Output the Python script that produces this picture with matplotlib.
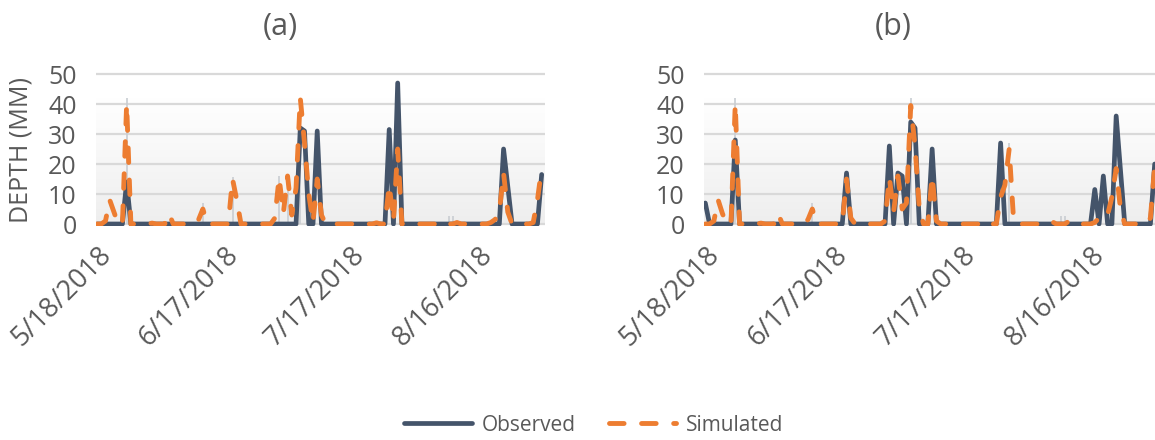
import numpy as np
import pandas as pd
import matplotlib
matplotlib.use("Agg")
import matplotlib.pyplot as plt
import matplotlib.dates as mdates
from matplotlib.lines import Line2D

plt.rcParams["font.family"] = ["Open Sans", "DejaVu Sans"]

# ---- data -------------------------------------------------------------
dates = pd.date_range("2018-05-18", periods=106, freq="D")
tick_dates = ["2018-05-18", "2018-06-17", "2018-07-17", "2018-08-16"]
tick_labels = ["5/18/2018", "6/17/2018", "7/17/2018", "8/16/2018"]
y_ticks = [0, 10, 20, 30, 40, 50]
panel_titles = ["(a)", "(b)"]
series_names = ["Observed", "Simulated"]

observed_a = [
    0, 0, 0, 0, 0, 0, 0, 14, 0, 0,
    0, 0, 0, 0, 0, 0, 0, 0, 0, 0,
    0, 0, 0, 0, 0, 0, 0, 0, 0, 0,
    0, 0, 0, 0, 0, 0, 0, 0, 0, 0,
    0, 0, 0, 0, 0, 0, 0, 0, 32, 31,
    0, 0, 31, 0, 0, 0, 0, 0, 0, 0,
    0, 0, 0, 0, 0, 0, 0, 0, 0, 31.5,
    0, 47, 0, 0, 0, 0, 0, 0, 0, 0,
    0, 0, 0, 0, 0, 0, 0, 0, 0, 0,
    0, 0, 0, 0, 0, 0, 25, 12.5, 0, 0,
    0, 0, 0, 0, 0, 16.5,
]
simulated_a = [
    0, 0, 1, 8, 4, 0, 0, 40, 0, 0,
    0, 0, 0, 0.3, 0, 0, 0, 3.5, 0, 0,
    0, 0, 0, 0, 1.5, 5, 0, 0, 0, 0,
    0, 0, 15, 8, 0, 0, 0, 0, 0, 0,
    0, 0, 2, 15.5, 3.5, 16, 3, 12, 42, 27,
    10, 0.5, 15, 3, 0, 0, 0, 0, 0, 0,
    0, 0, 0, 0, 0, 0, 0.4, 0, 0, 13,
    1, 25, 0, 0, 0, 0, 0, 0, 0, 0,
    0, 0.8, 0, 0, 0, 0.5, 0, 0, 0, 0,
    0, 0, 0, 0.5, 1.5, 4, 17, 4, 0, 0,
    0, 0, 0, 0.5, 8, 18.7,
]
observed_b = [
    7, 0, 0, 0, 0, 0, 0, 28, 0, 0,
    0, 0, 0, 0, 0, 0, 0, 0, 0, 0,
    0, 0, 0, 0, 0, 0, 0, 0, 0, 0,
    0, 0, 0, 17, 0, 0, 0, 0, 0, 0,
    0, 0, 0, 26, 0, 17, 16, 0, 34, 32,
    0, 0, 0, 25, 0, 0, 0, 0, 0, 0,
    0, 0, 0, 0, 0, 0, 0, 0, 0, 27,
    0, 0, 0, 0, 0, 0, 0, 0, 0, 0,
    0, 0, 0, 0, 0, 0, 0, 0, 0, 0,
    0, 11.5, 0, 16, 0, 0, 36, 18, 0, 0,
    0, 0, 0, 0, 0, 20,
]
simulated_b = [
    0, 0, 1, 8, 3.5, 0, 0, 40, 0, 0,
    0, 0, 0, 0.3, 0, 0, 0, 3.5, 0, 0,
    0, 0, 0, 0, 1.5, 5, 0, 0, 0, 0,
    0, 0, 0, 15, 2, 0, 0, 0, 0, 0,
    0, 0, 1, 15.5, 4, 16, 5, 7, 39.5, 26,
    5, 0, 0, 16, 1, 0, 0, 0, 0, 0,
    0, 0, 0, 0, 0, 1, 0, 0, 0, 9,
    13, 25, 2, 0, 0, 0, 0, 0, 0, 0,
    0, 0.8, 0, 0, 0, 1, 0, 0, 0, 0,
    0, 0.5, 2, 1.5, 3, 9, 18.5, 5, 0, 0,
    0, 0, 0, 0, 2, 19.5,
]

# thin grey drop lines (day index, height)
drop_days_a = [7, 25, 32, 43, 45, 48, 83, 84]
drop_heights_a = [42, 7, 15.5, 16, 16.5, 42, 2.5, 2.5]
drop_days_b = [7, 25, 48, 71, 83, 84]
drop_heights_b = [42, 7, 42, 27, 2.5, 2.5]

# ---- style ------------------------------------------------------------
NAVY = "#44546A"
ORANGE = "#ED7D31"
TEXT = "#595959"
GRID = "#D9D9D9"
W, H = 1155, 440
OBS_LW = 3.4
SIM_LW = 3.5
SIM_DASH = (0, (3.0, 3.6))

fig = plt.figure(figsize=(W / 100, H / 100), dpi=100)

xnum = mdates.date2num(dates)
x0 = xnum[0]

# pixel geometry of each plot area: left, right, first-point x, px per day
panels = [
    dict(left=96, right=545, first=97.0, ppd=4.235,
         obs=observed_a, sim=simulated_a,
         ddays=drop_days_a, dh=drop_heights_a, title=panel_titles[0], tx=280),
    dict(left=704, right=1155, first=705.3, ppd=4.28,
         obs=observed_b, sim=simulated_b,
         ddays=drop_days_b, dh=drop_heights_b, title=panel_titles[1], tx=893),
]

ypad = 0.7          # data units above 50 / below 0 so edge gridlines show fully
px_per_unit = 3.0   # 150 px for 0..50
top_px = 74 - ypad * px_per_unit
bot_px = 224 + ypad * px_per_unit

grad = np.linspace(0, 1, 256).reshape(-1, 1)
bg_cmap = matplotlib.colors.LinearSegmentedColormap.from_list(
    "bg", ["#EEEEEE", "#FFFFFF"])

for p in panels:
    ax = fig.add_axes([p["left"] / W, 1 - bot_px / H,
                       (p["right"] - p["left"]) / W, (bot_px - top_px) / H])
    lo = x0 - (p["first"] - p["left"]) / p["ppd"]
    hi = x0 + (p["right"] - p["first"]) / p["ppd"]
    ax.set_xlim(lo, hi)
    ax.set_ylim(-ypad, 50 + ypad)

    # soft grey gradient in the lower part of the plot area
    ax.imshow(grad, extent=(lo, hi, 0, 42), origin="lower", aspect="auto",
              cmap=bg_cmap, zorder=0, interpolation="bicubic")

    for yv in y_ticks:
        ax.axhline(yv, color=GRID, lw=1.6, zorder=1)

    ddx = [xnum[d] for d in p["ddays"]]
    ax.vlines(ddx, 0, p["dh"], color="#C9CDD2", lw=1.2, zorder=2)

    ax.plot(xnum, p["obs"], color=NAVY, lw=OBS_LW, solid_joinstyle="round",
            solid_capstyle="round", zorder=3)
    ax.plot(xnum, p["sim"], color=ORANGE, lw=SIM_LW, linestyle=SIM_DASH,
            dash_capstyle="round", dash_joinstyle="round", zorder=4)

    for s in ax.spines.values():
        s.set_visible(False)
    ax.set_yticks(y_ticks)
    ax.set_yticklabels([str(v) for v in y_ticks])
    ax.tick_params(axis="y", length=0, pad=14, labelsize=18, labelcolor=TEXT)
    ax.set_xticks(mdates.date2num(pd.to_datetime(tick_dates)))
    ax.set_xticklabels(tick_labels, rotation=45, ha="right",
                       rotation_mode="anchor")
    ax.tick_params(axis="x", length=0, pad=11, labelsize=19.5, labelcolor=TEXT)
    for lbl in ax.get_xticklabels():
        lbl.set_x(lbl.get_position()[0])

    fig.text(p["tx"] / W, 1 - 27 / H, p["title"], ha="center", va="center",
             fontsize=22, color=TEXT)

fig.text(21 / W, 1 - 150 / H, "DEPTH (MM)", rotation=90, ha="center",
         va="center", fontsize=18, color=TEXT)

handles = [
    Line2D([], [], color=NAVY, lw=OBS_LW, solid_capstyle="round"),
    Line2D([], [], color=ORANGE, lw=SIM_LW, linestyle=SIM_DASH,
           dash_capstyle="round"),
]
fig.legend(handles, series_names, loc="center",
           bbox_to_anchor=(0.514, 1 - 425 / H), ncol=2, frameon=False,
           fontsize=15, handlelength=3.25, handletextpad=0.45,
           columnspacing=1.6, labelcolor=TEXT)

fig.savefig("out.png", dpi=100, facecolor="white")
